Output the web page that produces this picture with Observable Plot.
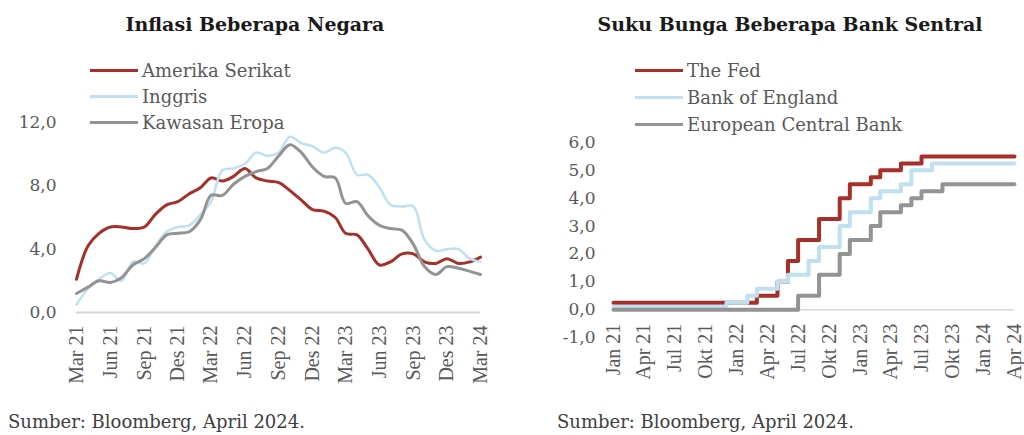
<!DOCTYPE html>
<html><head><meta charset="utf-8">
<script src="https://cdn.jsdelivr.net/npm/d3@7"></script>
<script src="https://cdn.jsdelivr.net/npm/@observablehq/plot@0.6"></script>
<style>
body{margin:0;background:#fff;}
#wrap{position:relative;width:1024px;height:435px;overflow:hidden;font-family:"DejaVu Serif",serif;}
.panel{position:absolute;top:0;width:512px;height:435px;}
.title{position:absolute;top:15px;font-weight:bold;font-size:19px;line-height:19px;color:#1a1a1a;white-space:nowrap;transform:translateX(-50%);}
.leg{position:absolute;font-size:18px;line-height:18px;color:#595959;white-space:nowrap;}
.sw{position:absolute;}
.cap{position:absolute;top:413px;font-size:18px;line-height:18px;color:#404040;white-space:nowrap;}
</style></head><body><div id="wrap"></div>
<script>
// ---------- DATA ----------
const monthNames = ["Jan","Feb","Mar","Apr","Mei","Jun","Jul","Agu","Sep","Okt","Nov","Des"];

// Inflasi (% yoy), monthly Mar 2021 .. Mar 2024
const inflasiStart = "Mar 21";
const inflasiAS      = [2.1,4.2,5.0,5.4,5.4,5.3,5.4,6.2,6.8,7.0,7.5,7.9,8.5,8.3,8.6,9.1,8.5,8.3,8.2,7.7,7.1,6.5,6.4,6.0,5.0,4.9,4.0,3.0,3.2,3.7,3.7,3.2,3.1,3.4,3.1,3.2,3.5];
const inflasiInggris = [0.5,1.5,2.1,2.5,2.0,3.2,3.1,4.2,5.1,5.4,5.5,6.2,7.0,9.0,9.1,9.4,10.1,9.9,10.1,11.1,10.7,10.5,10.1,10.4,10.1,8.7,8.7,7.9,6.8,6.7,6.7,4.6,3.9,4.0,4.0,3.4,3.2];
const inflasiEropa   = [1.2,1.6,2.0,1.9,2.2,3.0,3.4,4.1,4.9,5.0,5.1,5.9,7.4,7.4,8.1,8.6,8.9,9.1,9.9,10.6,10.1,9.2,8.6,8.5,6.9,7.0,6.1,5.5,5.3,5.2,4.3,2.9,2.4,2.9,2.8,2.6,2.4];
const inflasiTickLabels = ["Mar 21","Jun 21","Sep 21","Des 21","Mar 22","Jun 22","Sep 22","Des 22","Mar 23","Jun 23","Sep 23","Des 23","Mar 24"];
const inflasiYTicks = [0,4,8,12];

// Suku bunga (%), monthly Jan 2021 .. Apr 2024
const bungaStart = "Jan 21";
const bungaFed = [0.25,0.25,0.25,0.25,0.25,0.25,0.25,0.25,0.25,0.25,0.25,0.25,0.25,0.25,0.5,0.5,1.0,1.75,2.5,2.5,3.25,3.25,4.0,4.5,4.5,4.75,5.0,5.0,5.25,5.25,5.5,5.5,5.5,5.5,5.5,5.5,5.5,5.5,5.5,5.5];
const bungaBoE = [0.1,0.1,0.1,0.1,0.1,0.1,0.1,0.1,0.1,0.1,0.1,0.25,0.25,0.5,0.75,0.75,1.0,1.25,1.25,1.75,2.25,2.25,3.0,3.5,3.5,4.0,4.25,4.25,4.5,5.0,5.0,5.25,5.25,5.25,5.25,5.25,5.25,5.25,5.25,5.25];
const bungaECB = [0,0,0,0,0,0,0,0,0,0,0,0,0,0,0,0,0,0,0.5,0.5,1.25,1.25,2.0,2.5,2.5,3.0,3.5,3.5,3.75,4.0,4.25,4.25,4.5,4.5,4.5,4.5,4.5,4.5,4.5,4.5];
const bungaTickLabels = ["Jan 21","Apr 21","Jul 21","Okt 21","Jan 22","Apr 22","Jul 22","Okt 22","Jan 23","Apr 23","Jul 23","Okt 23","Jan 24","Apr 24"];
const bungaYTicks = [-1,0,1,2,3,4,5,6];

const inflasiSeries = ["Amerika Serikat","Inggris","Kawasan Eropa"];
const bungaSeries = ["The Fed","Bank of England","European Central Bank"];
const colors = ["#a62f2a","#bfe0f1","#939393"];

// ---------- HELPERS ----------
const parseLabel = s => { const [m,y] = s.split(" "); return new Date(Date.UTC(2000 + +y, monthNames.indexOf(m), 1)); };
const addMonths = (dt, k) => new Date(Date.UTC(dt.getUTCFullYear(), dt.getUTCMonth() + k, 1));
const fmtLabel = dt => monthNames[dt.getUTCMonth()] + " " + String(dt.getUTCFullYear() % 100).padStart(2,"0");
const fmtNum = v => v.toFixed(1).replace(".", ",");
const toRows = (start, arrays, names) => arrays.flatMap((arr, s) => arr.map((v, i) => ({date: addMonths(parseLabel(start), i), value: v, series: names[s]})));

const inflRows = toRows(inflasiStart, [inflasiAS, inflasiInggris, inflasiEropa], inflasiSeries);
const bungaRows = toRows(bungaStart, [bungaFed, bungaBoE, bungaECB], bungaSeries);
const inflTicks = inflasiTickLabels.map(parseLabel);
const bungaTicks = bungaTickLabels.map(parseLabel);

const baseStyle = {fontFamily:"DejaVu Serif", fontSize:"17px", color:"#595959", background:"transparent", overflow:"visible"};

const leftPlot = Plot.plot({
  width:512, height:435, marginTop:122, marginBottom:123, marginLeft:76, marginRight:32,
  style: baseStyle,
  x:{type:"utc", domain:[inflTicks[0], inflTicks[inflTicks.length-1]], axis:null},
  y:{domain:[0,12], ticks:inflasiYTicks, tickSize:0, tickPadding:20, tickFormat:fmtNum, label:null},
  marks:[
    Plot.ruleY([0], {stroke:"#d6d6d6", strokeWidth:2}),
    Plot.text(inflTicks, {x:d=>d, y:0, text:fmtLabel, rotate:-90, textAnchor:"end", lineAnchor:"middle", dy:13, fontFamily:"Liberation Serif", fontSize:20, fill:"#595959"}),
    ...inflasiSeries.map((s, k) => Plot.line(inflRows.filter(r => r.series === s), {x:"date", y:"value", stroke:colors[k], strokeWidth: k===1 ? 2.5 : 3, curve:"catmull-rom"}))
  ]
});

const rightPlot = Plot.plot({
  width:512, height:435, marginTop:142, marginBottom:98, marginLeft:101, marginRight:10,
  style: baseStyle,
  x:{type:"utc", domain:[bungaTicks[0], bungaTicks[bungaTicks.length-1]], axis:null},
  y:{domain:[-1,6], ticks:bungaYTicks, tickSize:0, tickPadding:18, tickFormat:fmtNum, label:null},
  marks:[
    Plot.ruleY([0], {stroke:"#d9d9d9", strokeWidth:1.5}),
    Plot.text(bungaTicks, {x:d=>d, y:0, text:fmtLabel, rotate:-90, textAnchor:"end", lineAnchor:"middle", dy:14, fontFamily:"Liberation Serif", fontSize:20, fill:"#595959"}),
    ...bungaSeries.map((s, k) => Plot.line(bungaRows.filter(r => r.series === s), {x:"date", y:"value", stroke:colors[k], strokeWidth:4, curve:"step-after"}))
  ]
});

// ---------- LAYOUT ----------
const wrap = document.getElementById("wrap");
function panel(left, plot, title, titleX, names, legX, legY0, legStep, caption, capX) {
  const p = document.createElement("div");
  p.className = "panel"; p.style.left = left + "px";
  p.appendChild(plot);
  plot.style.position = "absolute"; plot.style.left = "0"; plot.style.top = "0";
  const t = document.createElement("div");
  t.className = "title"; t.style.left = titleX + "px"; t.textContent = title;
  p.appendChild(t);
  names.forEach((n, k) => {
    const cy = legY0 + k * legStep;
    const sw = document.createElement("div");
    sw.className = "sw";
    sw.style.left = legX + "px"; sw.style.width = "48px";
    sw.style.top = (cy - 1.5) + "px"; sw.style.height = "3px";
    sw.style.background = colors[k];
    p.appendChild(sw);
    const l = document.createElement("div");
    l.className = "leg"; l.style.left = (legX + 52) + "px"; l.style.top = (cy - 8.5) + "px";
    l.textContent = n;
    p.appendChild(l);
  });
  const c = document.createElement("div");
  c.className = "cap"; c.style.left = capX + "px"; c.textContent = caption;
  p.appendChild(c);
  wrap.appendChild(p);
}
panel(0, leftPlot, "Inflasi Beberapa Negara", 255, inflasiSeries, 90, 70, 26, "Sumber: Bloomberg, April 2024.", 8);
panel(512, rightPlot, "Suku Bunga Beberapa Bank Sentral", 278, bungaSeries, 123, 70, 27, "Sumber: Bloomberg, April 2024.", 45);
</script></body></html>
